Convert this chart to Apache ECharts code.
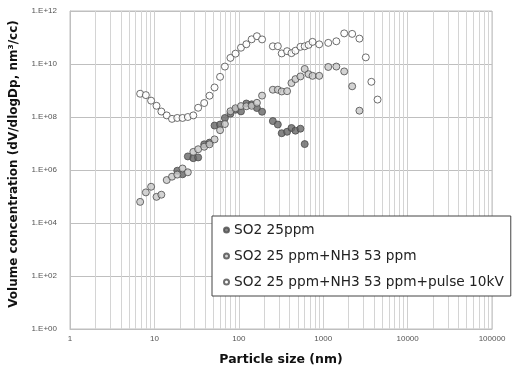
<!DOCTYPE html>
<html>
<head>
<meta charset="utf-8">
<script src="https://cdn.jsdelivr.net/npm/echarts@6/dist/echarts.min.js"></script>
<style>
  html, body { margin: 0; padding: 0; background: #fff; }
  #chart { width: 513px; height: 371px; }
</style>
</head>
<body>
<div id="chart"></div>
<script>
// particle diameters (nm), one per channel
const sizes1 = [18.67, 21.56, 24.9, 28.9, 33.0, 38.9, 45.0, 51.6, 60.0, 68.4, 79.6, 91.4, 106.1, 122.9, 141.9, 163.9, 188.7,
  253.2, 290, 322.3, 373.3, 420.6, 468.8, 537, 603.5];
const so2 = [9.4e5, 6.9e5, 3.25e6, 2.8e6, 2.98e6, 9.3e6, 1.08e7, 4.76e7, 5.19e7, 9.2e7, 1.33e8, 1.88e8, 1.63e8, 3.23e8, 3.01e8, 2.18e8, 1.58e8,
  7.0e7, 5.2e7, 2.44e7, 2.77e7, 3.85e7, 3.05e7, 3.62e7, 9.5e6];

const sizes2 = [6.78, 7.92, 9.14, 10.59, 12.09, 14.0, 16.17, 18.67, 21.56, 24.9, 28.9, 33.0, 38.9, 45.0, 51.6, 60.0, 68.4, 79.6, 91.4,
  106.1, 122.9, 141.9, 163.9, 188.7, 253.2, 290, 322.3, 373.3, 420.6, 468.8, 537, 603.5, 671, 747.7, 897, 1148, 1431, 1774, 2204, 2687];
const so2nh3 = [6.27e4, 1.43e5, 2.33e5, 9.7e4, 1.17e5, 4.18e5, 5.59e5, 6.7e5, 1.14e6, 8.2e5, 4.82e6, 6.07e6, 7.53e6, 9.3e6, 1.43e7,
  3.18e7, 5.42e7, 1.65e8, 2.14e8, 2.58e8, 2.54e8, 2.65e8, 3.43e8, 6.41e8, 1.07e9, 1.07e9, 9.2e8, 9.44e8, 1.91e9, 2.69e9, 3.39e9,
  6.5e9, 4.13e9, 3.57e9, 3.57e9, 7.73e9, 8.0e9, 5.25e9, 1.44e9, 1.73e8];

const sizes3 = [6.78, 7.92, 9.14, 10.59, 12.09, 14.0, 16.17, 18.67, 21.56, 24.9, 28.9, 33.0, 38.9, 45.0, 51.6, 60.0, 68.4, 79.6, 91.4,
  106.1, 122.9, 141.9, 163.9, 188.7, 253.2, 290, 322.3, 373.3, 420.6, 468.8, 537, 603.5, 671, 747.7, 897, 1148, 1431, 1774, 2204,
  2687, 3196, 3722, 4405];
const pulse = [7.55e8, 6.7e8, 4.14e8, 2.65e8, 1.61e8, 1.15e8, 8.5e7, 9.2e7, 9.2e7, 1.0e8, 1.15e8, 2.23e8, 3.37e8, 6.36e8, 1.3e9,
  3.28e9, 8.0e9, 1.7e10, 2.46e10, 4.12e10, 5.56e10, 8.55e10, 1.12e11, 8.47e10, 4.65e10, 4.7e10, 2.51e10, 3.05e10, 2.57e10,
  3.16e10, 4.45e10, 4.65e10, 5.28e10, 6.84e10, 5.52e10, 6.27e10, 7.2e10, 1.43e11, 1.37e11, 9.08e10, 1.78e10, 2.13e9, 4.55e8];

const names = ["SO2 25ppm", "SO2 25 ppm+NH3 53 ppm", "SO2 25 ppm+NH3 53 ppm+pulse 10kV"];

// minor vertical grid (2..9 in each decade)
const decades = [1, 10, 100, 1000, 10000];
const minorGrid = [];
decades.forEach(d => { for (let k = 2; k <= 9; k++) minorGrid.push(d * k); });

const pairs = (xs, ys) => xs.map((x, i) => [x, ys[i]]);

const chart = echarts.init(document.getElementById("chart"));

const pointStyle = (fill) => ({ color: fill, borderColor: "#4a4a4a", borderWidth: 1 });

const option = {
  animation: false,
  grid: {
    left: 68.5, right: 21, top: 11, bottom: 38,
    show: true, borderColor: "#bfbfbf", borderWidth: 1
  },
  legend: {
    data: names,
    orient: "vertical",
    left: 212, top: 216,
    icon: "circle",
    padding: [7, 7, 7, 11],
    itemGap: 12,
    itemWidth: 5, itemHeight: 5,
    backgroundColor: "#fff",
    borderColor: "#444", borderWidth: 1,
    textStyle: { fontSize: 13.7, color: "#222", fontFamily: "DejaVu Sans" }
  },
  xAxis: {
    type: "log", logBase: 10, min: 1, max: 100000,
    name: "Particle size (nm)",
    nameLocation: "middle", nameGap: 24,
    nameTextStyle: { fontSize: 12.5, fontWeight: "bold", color: "#111", fontFamily: "DejaVu Sans" },
    axisLine: { lineStyle: { color: "#bfbfbf" } },
    axisTick: { show: false },
    axisLabel: { fontSize: 8, color: "#555", margin: 6, formatter: v => String(Math.round(v)) },
    splitLine: { show: true, lineStyle: { color: "#cfcfcf" } }
  },
  yAxis: {
    type: "log", logBase: 10, min: 1, max: 1e12, interval: 2, splitNumber: 6,
    name: "Volume concentration (dV/dlogDp, nm³/cc)",
    nameLocation: "middle", nameGap: 50,
    nameTextStyle: { fontSize: 12, fontWeight: "bold", color: "#111", fontFamily: "DejaVu Sans", padding: [0, 0, 0, 12] },
    axisLine: { show: true, lineStyle: { color: "#bfbfbf" } },
    axisTick: { show: false },
    axisLabel: {
      fontSize: 8, color: "#555", margin: 13,
      formatter: v => {
        const e = Math.round(Math.log10(v));
        return "1.E+" + (e < 10 ? "0" : "") + e;
      }
    },
    splitLine: { show: true, lineStyle: { color: "#bfbfbf" } }
  },
  series: [
    {
      type: "scatter", name: "grid", data: [], silent: true, z: 1,
      markLine: {
        z: 1,
        silent: true, symbol: "none", animation: false,
        label: { show: false },
        lineStyle: { color: "#d4d4d4", width: 1, type: "solid" },
        data: minorGrid.map(v => ({ xAxis: v }))
      }
    },
    {
      type: "scatter", name: names[0], symbol: "circle", symbolSize: 7,
      itemStyle: pointStyle("#666666"),
      data: pairs(sizes1, so2)
    },
    {
      type: "scatter", name: names[1], symbol: "circle", symbolSize: 7,
      itemStyle: pointStyle("#c8c8c8"),
      data: pairs(sizes2, so2nh3)
    },
    {
      type: "scatter", name: names[2], symbol: "circle", symbolSize: 7,
      itemStyle: pointStyle("#ffffff"),
      data: pairs(sizes3, pulse)
    }
  ]
};

chart.setOption(option);
</script>
</body>
</html>
